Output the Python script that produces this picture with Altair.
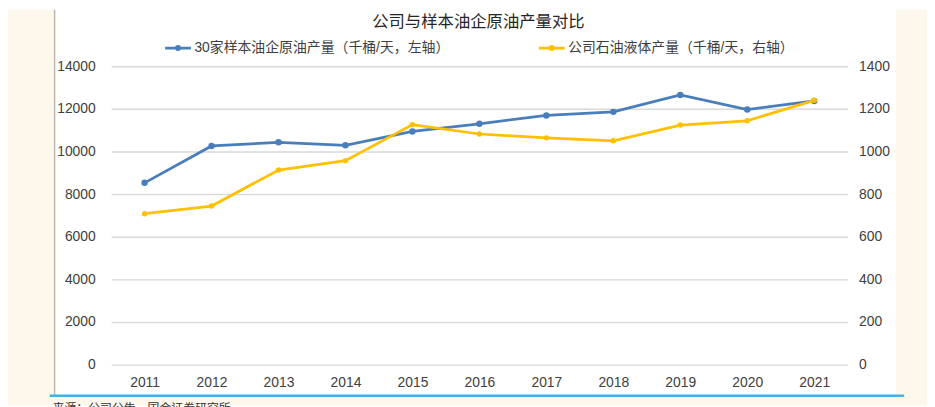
import altair as alt
import pandas as pd

years = [2011, 2012, 2013, 2014, 2015, 2016, 2017, 2018, 2019, 2020, 2021]
sample_output = [8530, 10260, 10430, 10290, 10940, 11300, 11690, 11860, 12650, 11970, 12370]
company_output = [708, 744, 913, 957, 1126, 1082, 1064, 1050, 1124, 1144, 1240]

s1 = "30家样本油企原油产量（千桶/天，左轴）"
s2 = "公司石油液体产量（千桶/天，右轴）"
title_text = "公司与样本油企原油产量对比"
source_text = "来源：公司公告，国金证券研究所"
left_ticks = [0, 2000, 4000, 6000, 8000, 10000, 12000, 14000]
right_ticks = [0, 200, 400, 600, 800, 1000, 1200, 1400]

BLUE = "#4A7EBB"
YELLOW = "#FFC000"
CREAM = "#FEF8EC"
TXT = "#404040"
LATIN = "Liberation Sans, Noto Sans CJK SC"
CJK = "Noto Sans CJK SC"

df = pd.DataFrame({
    "year": years * 2,
    "value": sample_output + company_output,
    "series": [s1] * len(years) + [s2] * len(years),
})
one = pd.DataFrame({"k": [0]})

color = alt.Color(
    "series:N",
    scale=alt.Scale(domain=[s1, s2], range=[BLUE, YELLOW]),
    legend=alt.Legend(
        orient="none", legendX=53, legendY=-33, direction="horizontal", title=None,
        symbolType="M-1,0H1M0.13,0A0.13,0.13,0,1,1,-0.13,0A0.13,0.13,0,1,1,0.13,0",
        symbolSize=676, symbolStrokeWidth=2.75,
        labelFont=LATIN, labelFontSize=14, labelColor=TXT, labelOffset=2,
        labelLimit=0, columnPadding=84,
    ),
)

xenc = alt.X("year:O", scale=alt.Scale(padding=0.5),
             axis=alt.Axis(title=None, labelAngle=0, domain=False, ticks=False,
                           labelFont=LATIN, labelFontSize=14, labelColor=TXT,
                           labelPadding=11, grid=False))

blue = alt.Chart(df).transform_filter(alt.datum.series == s1).mark_line(
    strokeWidth=2.75, point=alt.OverlayMarkDef(filled=True, size=42)
).encode(
    x=xenc,
    y=alt.Y("value:Q", scale=alt.Scale(domain=[0, 14000], nice=False),
            axis=alt.Axis(title=None, values=left_ticks, format="d", domain=False, ticks=False,
                          labelFont=LATIN, labelFontSize=14, labelColor=TXT,
                          labelPadding=16, gridColor="#D9D9D9", gridWidth=1.5)),
    color=color,
)

yellow = alt.Chart(df).transform_filter(alt.datum.series == s2).mark_line(
    strokeWidth=2.75, point=alt.OverlayMarkDef(filled=True, size=30)
).encode(
    x=xenc,
    y=alt.Y("value:Q", scale=alt.Scale(domain=[0, 1400], nice=False),
            axis=alt.Axis(title=None, orient="right", values=right_ticks, format="d",
                          domain=False, ticks=False, grid=False, labelFont=LATIN,
                          labelFontSize=14, labelColor=TXT, labelPadding=11)),
    color=color,
)

cream_left = alt.Chart(one).mark_rect(color=CREAM).encode(
    x=alt.value(-104), x2=alt.value(-57), y=alt.value(-57), y2=alt.value(342))
cream_right = alt.Chart(one).mark_rect(color=CREAM).encode(
    x=alt.value(792), x2=alt.value(830), y=alt.value(-57), y2=alt.value(342))
cream_bottom = alt.Chart(one).mark_rect(color=CREAM).encode(
    x=alt.value(-57), x2=alt.value(792), y=alt.value(333), y2=alt.value(342))
left_border = alt.Chart(one).mark_rule(color="#BFB8AA", strokeWidth=1.5).encode(
    x=alt.value(-57), y=alt.value(-57), y2=alt.value(332))
bottom_line = alt.Chart(one).mark_rule(color="#45B0E5", strokeWidth=2.5).encode(
    x=alt.value(-62), x2=alt.value(800), y=alt.value(332.5))

title = alt.Chart(one).mark_text(
    text=title_text, font=CJK, fontSize=16.5, color="#262626", align="center", baseline="middle"
).encode(x=alt.value(370.5), y=alt.value(-45))

source = alt.Chart(one).mark_text(
    text=source_text, font=CJK, fontSize=12, color="#333333", align="left", baseline="top"
).encode(x=alt.value(-59), y=alt.value(340))

chart = alt.layer(
    cream_left, cream_right, cream_bottom, left_border, bottom_line,
    blue, yellow, title, source
).resolve_scale(y="independent").properties(
    width=743, height=301,
    autosize=alt.AutoSizeParams(type="none"),
    padding={"left": 104, "top": 57, "right": 80, "bottom": 41},
    background="white",
).configure_view(stroke=None)

chart.save("out.html", embed_options={"renderer": "svg", "actions": False})
